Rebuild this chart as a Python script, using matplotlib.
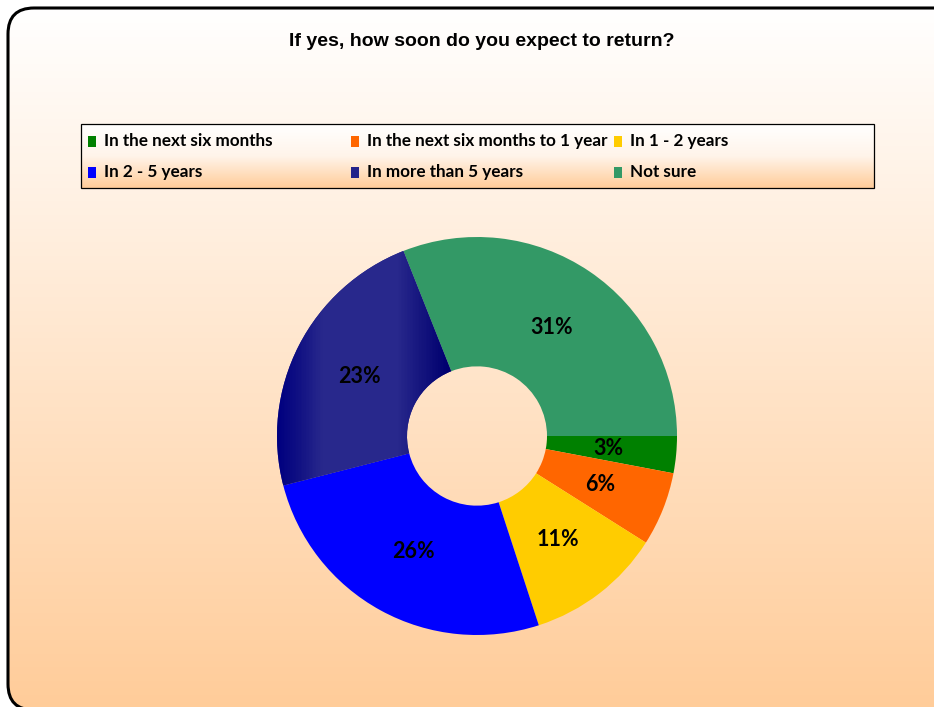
import matplotlib
matplotlib.use("Agg")
import matplotlib.pyplot as plt
import numpy as np
from matplotlib.colors import LinearSegmentedColormap
from matplotlib.patches import FancyBboxPatch, Rectangle

TITLE = "If yes, how soon do you expect to return?"
categories = [
    "In the next six months",
    "In the next six months to 1 year",
    "In 1 - 2 years",
    "In 2 - 5 years",
    "In more than 5 years",
    "Not sure",
]
shares = [3, 6, 11, 26, 23, 31]
colors = ["#008000", "#FF6600", "#FFCC00", "#0000FF", "#23238A", "#339966"]

W, H = 934, 707
LABEL_FONT = "Lato"

fig = plt.figure(figsize=(W / 100, H / 100), dpi=100)

# background panel in pixel coordinates (y up)
bg = fig.add_axes([0, 0, 1, 1])
peach = LinearSegmentedColormap.from_list("peach", ["#FFFFFF", "#FFCC99"])
grad = np.linspace(0, 1, 256).reshape(-1, 1)
frame = FancyBboxPatch((8, -3), 960, H - 8 + 3, boxstyle="round,pad=0,rounding_size=26",
                       fc="none", ec="black", lw=2.2, zorder=3)
bg.add_patch(frame)
img = bg.imshow(grad, cmap=peach, extent=(8, 968, -3, H - 8), aspect="auto", zorder=1)
img.set_clip_path(frame)

# legend box
leg_box = Rectangle((81, H - 188), 793, 64, fc="none", ec="black", lw=0.9, zorder=4)
bg.add_patch(leg_box)
leg_grad = LinearSegmentedColormap.from_list("leg", ["#FFFFFF", "#FFF4EA", "#FFCC99"])
limg = bg.imshow(grad, cmap=leg_grad, extent=(81, 874, H - 188, H - 124), aspect="auto", zorder=2)
limg.set_clip_path(leg_box)
for i, (name, col) in enumerate(zip(categories, colors)):
    row, c = divmod(i, 3)
    x0 = 88 + c * 263
    y0 = H - (141 + row * 31)
    bg.add_patch(Rectangle((x0, y0 - 5.5), 8, 11, fc=col, ec="none", zorder=5))
    bg.text(x0 + 16, y0, name, fontsize=12.3, fontweight="bold", family=LABEL_FONT,
            va="center", ha="left", zorder=5)

bg.set_xlim(0, W)
bg.set_ylim(0, H)
bg.axis("off")

fig.text(482 / W, 1 - 42 / H, TITLE, ha="center", va="center", fontsize=14,
         fontweight="bold", family="Liberation Sans")

# donut
ax = fig.add_axes([277 / W, (H - 635) / H, 400 / W, 398 / H])
wedges, texts, autotexts = ax.pie(
    shares, colors=colors, startangle=0, counterclock=False, radius=1,
    wedgeprops=dict(width=0.65, linewidth=0),
    autopct=lambda p: f"{p:.0f}%", pctdistance=0.66,
)
for t in autotexts:
    t.set_fontsize(15.5)
    t.set_fontweight("bold")
    t.set_family(LABEL_FONT)
    t.set_color("black")
    t.set_zorder(5)

# shaded navy slice
navy = LinearSegmentedColormap.from_list(
    "navy", [(0.0, "#000080"), (0.05, "#101083"), (0.11, "#28288C"),
             (0.30, "#28288C"), (0.425, "#00006F"), (1.0, "#00006F")])
xs = np.linspace(0, 1, 400).reshape(1, -1)
nimg = ax.imshow(xs, cmap=navy, extent=(-1, 1, -1, 1), aspect="auto", zorder=2)
nimg.set_clip_path(wedges[4])

ax.set_xlim(-1, 1)
ax.set_ylim(-1, 1)
ax.axis("off")

fig.savefig("out.png", dpi=100)
